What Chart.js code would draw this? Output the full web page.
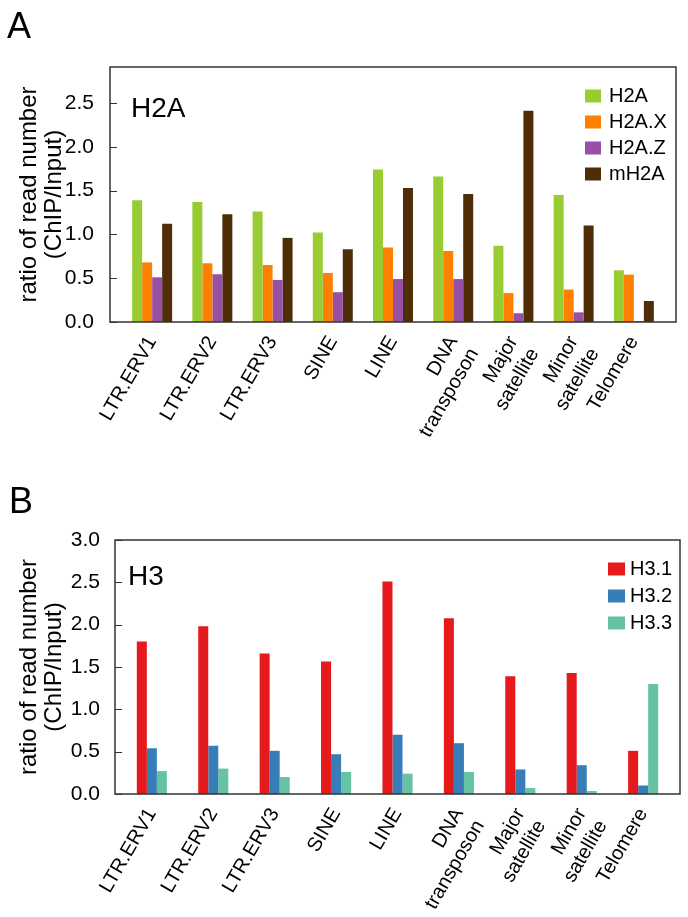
<!DOCTYPE html>
<html>
<head>
<meta charset="utf-8">
<script src="https://cdn.jsdelivr.net/npm/chart.js@4/dist/chart.umd.min.js"></script>
<style>
  body{margin:0;background:#fff;width:688px;height:917px;position:relative;overflow:hidden;font-family:'Liberation Sans',Arial,sans-serif}
  .panel{position:absolute;left:0;width:688px}
  .letter{position:absolute;font-size:36px;line-height:1;color:#000}
</style>
</head>
<body>
<div class="panel" style="top:0;height:460px"><canvas id="chartA" width="688" height="460"></canvas></div>
<div class="panel" style="top:460px;height:457px"><canvas id="chartB" width="688" height="457"></canvas></div>
<div class="letter" style="left:7px;top:8px">A</div>
<div class="letter" style="left:9px;top:483px">B</div>
<script>
// ── data ──
const CATS = ['LTR.ERV1','LTR.ERV2','LTR.ERV3','SINE','LINE',['DNA','transposon'],['Major','satellite'],['Minor','satellite'],'Telomere'];

const H2A  = [1.39,1.37,1.26,1.02,1.74,1.66,0.87,1.45,0.59];
const H2AX = [0.68,0.67,0.65,0.56,0.85,0.81,0.33,0.37,0.54];
const H2AZ = [0.51,0.545,0.48,0.34,0.49,0.49,0.10,0.11,0.01];
const MH2A = [1.12,1.23,0.96,0.83,1.53,1.46,2.41,1.10,0.24];

const H31 = [1.80,1.98,1.66,1.565,2.51,2.075,1.39,1.43,0.51];
const H32 = [0.54,0.57,0.51,0.47,0.70,0.60,0.29,0.34,0.10];
const H33 = [0.27,0.30,0.20,0.26,0.24,0.26,0.07,0.035,1.30];

const Y_TICKS_A = [0,0.5,1.0,1.5,2.0,2.5];
const Y_TICKS_B = [0,0.5,1.0,1.5,2.0,2.5,3.0];

const FONT = "'Liberation Sans',Arial,sans-serif";
Chart.defaults.font.family = FONT;
Chart.defaults.color = '#000';
Chart.defaults.animation = false;

// frame, inward y ticks, inner tag ("H2A"/"H3") and box legend
const panelDeco = {
  id:'panelDeco',
  afterDatasetsDraw(chart, args, o) {
    const {ctx, chartArea:a} = chart;
    const ys = chart.scales.y;
    ctx.save();
    ctx.strokeStyle = '#333'; ctx.lineWidth = 1.5;
    ctx.strokeRect(a.left, a.top, a.right - a.left, a.bottom - a.top);
    ctx.lineWidth = 1.2;
    ctx.beginPath();
    ys.ticks.forEach(t => {
      const py = Math.round(ys.getPixelForValue(t.value)) + 0.5;
      ctx.moveTo(a.left, py); ctx.lineTo(a.left + 7, py);
    });
    ctx.stroke();
    ctx.fillStyle = '#000'; ctx.font = o.tagFont;
    ctx.textAlign = 'left'; ctx.textBaseline = 'alphabetic';
    ctx.fillText(o.tag, a.left + o.tagX, a.top + o.tagY);
    ctx.font = o.legFont; ctx.textBaseline = 'middle';
    chart.data.datasets.forEach((d, i) => {
      const y = a.top + o.legY + i * o.legGap, x = a.right + o.legX;
      ctx.fillStyle = d.backgroundColor; ctx.fillRect(x, y - 6.5, o.swW, 13);
      ctx.fillStyle = '#000'; ctx.fillText(d.label, x + o.swW + o.txtGap, y);
    });
    ctx.restore();
  }
};

const pts = arr => arr.map((v, i) => ({x:i, y:v}));

function panel(id, series, yTicks, cfg) {
  new Chart(document.getElementById(id), {
    type:'bar',
    data:{datasets: series.map(s => ({label:s[0], data:pts(s[1]), backgroundColor:s[2], borderWidth:0}))},
    plugins:[panelDeco],
    options:{
      responsive:false,
      layout:{padding:{top:cfg.top, right:cfg.right, left:0, bottom:0}},
      datasets:{bar:{categoryPercentage:cfg.catPct, barPercentage:1}},
      plugins:{
        legend:{display:false}, tooltip:{enabled:false},
        panelDeco:cfg.deco
      },
      scales:{
        x:{type:'linear', min:cfg.xMin, max:cfg.xMax, offset:false,
          grid:{display:false}, border:{display:false},
          afterBuildTicks: s => { s.ticks = CATS.map((c, i) => ({value:i})); },
          afterFit: s => { s.height = cfg.xH; },
          ticks:{autoSkip:false, maxRotation:60, minRotation:60, padding:2,
            font:{size:20}, color:'#000', callback: v => CATS[v]}},
        y:{min:0, max:cfg.yMax,
          grid:{display:false}, border:{display:false},
          afterBuildTicks: s => { s.ticks = yTicks.map(v => ({value:v})); },
          afterFit: s => { s.width = cfg.yW; },
          ticks:{padding:cfg.yPad, font:{size:21}, color:'#000', callback: v => v.toFixed(1)},
          title:{display:true, text:['ratio of read number','(ChIP/Input)'],
            font:{size:24, lineHeight:1.05}, color:'#000', padding:{top:17, bottom:0}}}
      }
    }
  });
}

panel('chartA', [
  ['H2A', H2A, '#99cc33'],
  ['H2A.X', H2AX, '#ff7f00'],
  ['H2A.Z', H2AZ, '#9650a6'],
  ['mH2A', MH2A, '#4f2d07']
], Y_TICKS_A, {
  top:67, right:12, xH:138, yW:110, yMax:2.91, yPad:8, xMin:-0.7, xMax:8.7, catPct:0.664,
  deco:{tag:'H2A', tagFont:"28px "+FONT, tagX:21, tagY:50,
    legFont:"20px "+FONT, legX:-91, legY:29, legGap:26, swW:16, txtGap:8}
});

panel('chartB', [
  ['H3.1', H31, '#e41a1c'],
  ['H3.2', H32, '#377eb8'],
  ['H3.3', H33, '#66c2a5']
], Y_TICKS_B, {
  top:80, right:8, xH:123, yW:115, yMax:3.0, yPad:7, xMin:-0.6, xMax:8.6, catPct:0.49,
  deco:{tag:'H3', tagFont:"28px "+FONT, tagX:13, tagY:45,
    legFont:"20px "+FONT, legX:-72, legY:29, legGap:27, swW:17, txtGap:5}
});
</script>
</body>
</html>
